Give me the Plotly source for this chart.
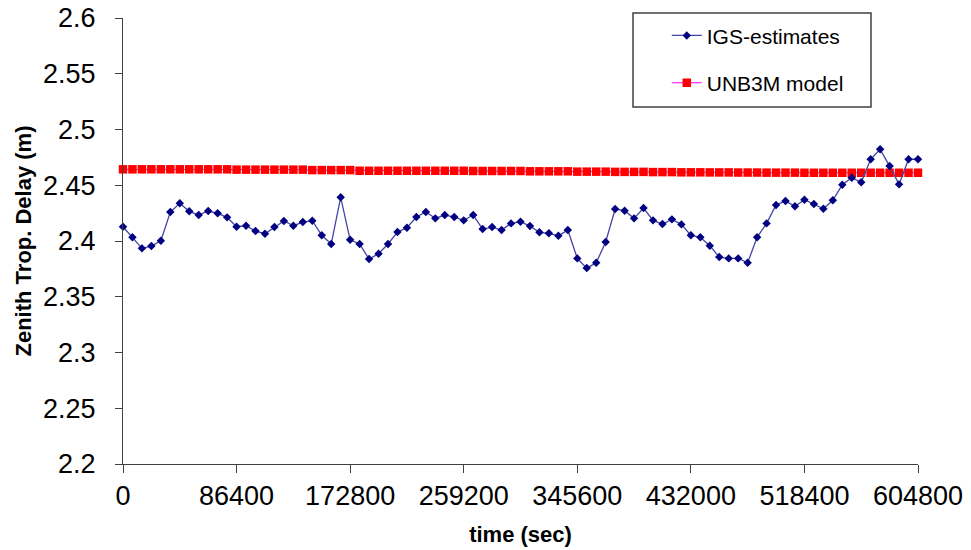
import plotly.graph_objects as go

time_sec = [0, 7200, 14400, 21600, 28800, 36000, 43200, 50400, 57600, 64800,
            72000, 79200, 86400, 93600, 100800, 108000, 115200, 122400, 129600, 136800,
            144000, 151200, 158400, 165600, 172800, 180000, 187200, 194400, 201600, 208800,
            216000, 223200, 230400, 237600, 244800, 252000, 259200, 266400, 273600, 280800,
            288000, 295200, 302400, 309600, 316800, 324000, 331200, 338400, 345600, 352800,
            360000, 367200, 374400, 381600, 388800, 396000, 403200, 410400, 417600, 424800,
            432000, 439200, 446400, 453600, 460800, 468000, 475200, 482400, 489600, 496800,
            504000, 511200, 518400, 525600, 532800, 540000, 547200, 554400, 561600, 568800,
            576000, 583200, 590400, 597600, 604800]

igs_estimates = [2.4128, 2.4033, 2.3934, 2.3955, 2.4002, 2.4260, 2.4338, 2.4266, 2.4233, 2.4269,
                 2.4248, 2.4212, 2.4128, 2.4137, 2.4089, 2.4065, 2.4125, 2.4179, 2.4137, 2.4170,
                 2.4182, 2.4051, 2.3973, 2.4392, 2.4011, 2.3973, 2.3838, 2.3886, 2.3973, 2.4080,
                 2.4119, 2.4215, 2.4260, 2.4203, 2.4233, 2.4215, 2.4185, 2.4233, 2.4107, 2.4125,
                 2.4098, 2.4158, 2.4173, 2.4134, 2.4078, 2.4069, 2.4047, 2.4098, 2.3844, 2.3757,
                 2.3805, 2.3991, 2.4287, 2.4272, 2.4203, 2.4296, 2.4185, 2.4152, 2.4194, 2.4149,
                 2.4051, 2.4033, 2.3958, 2.3856, 2.3844, 2.3844, 2.3805, 2.4033, 2.4158, 2.4323,
                 2.4358, 2.4311, 2.4370, 2.4332, 2.4289, 2.4365, 2.4505, 2.4567, 2.4526, 2.4733,
                 2.4822, 2.4672, 2.4508, 2.4733, 2.4733]

unb3m_model = [2.4643, 2.4643, 2.4643, 2.4643, 2.4643, 2.4643, 2.4643, 2.4643, 2.4643, 2.4643,
               2.4643, 2.4643, 2.4640, 2.4640, 2.4640, 2.4640, 2.4640, 2.4640, 2.4640, 2.4640,
               2.4636, 2.4636, 2.4636, 2.4636, 2.4636, 2.4630, 2.4630, 2.4630, 2.4630, 2.4630,
               2.4630, 2.4630, 2.4630, 2.4630, 2.4630, 2.4630, 2.4630, 2.4628, 2.4628, 2.4628,
               2.4628, 2.4628, 2.4628, 2.4625, 2.4625, 2.4625, 2.4625, 2.4625, 2.4622, 2.4622,
               2.4622, 2.4622, 2.4620, 2.4620, 2.4620, 2.4620, 2.4618, 2.4618, 2.4618, 2.4616,
               2.4616, 2.4616, 2.4615, 2.4615, 2.4615, 2.4614, 2.4614, 2.4614, 2.4613, 2.4613,
               2.4613, 2.4613, 2.4612, 2.4612, 2.4612, 2.4612, 2.4612, 2.4612, 2.4612, 2.4612,
               2.4612, 2.4612, 2.4612, 2.4612, 2.4612]

x_tick_vals = [0, 86400, 172800, 259200, 345600, 432000, 518400, 604800]
x_tick_text = ["0", "86400", "172800", "259200", "345600", "432000", "518400", "604800"]
y_tick_vals = [2.2, 2.25, 2.3, 2.35, 2.4, 2.45, 2.5, 2.55, 2.6]
y_tick_text = ["2.2", "2.25", "2.3", "2.35", "2.4", "2.45", "2.5", "2.55", "2.6"]

FONT = "Liberation Sans, Arial, sans-serif"

fig = go.Figure()
fig.add_trace(go.Scatter(
    x=time_sec, y=unb3m_model, name="UNB3M model", mode="lines+markers",
    line=dict(color="#FF00FF", width=1),
    marker=dict(symbol="square", size=8.5, color="#FF0000"),
    cliponaxis=False, legendrank=2, legendgroup="b",
))
fig.add_trace(go.Scatter(
    x=time_sec, y=igs_estimates, name="IGS-estimates", mode="lines+markers",
    line=dict(color="#4444A4", width=1.3),
    marker=dict(symbol="diamond", size=6.5, color="#000080"),
    cliponaxis=False, legendrank=1, legendgroup="a",
))

fig.update_layout(
    width=971, height=550,
    margin=dict(l=123, r=53, t=18, b=86, autoexpand=False),
    paper_bgcolor="white", plot_bgcolor="white",
    font=dict(family=FONT, color="#000000"),
    showlegend=True,
    legend=dict(
        x=0.684, y=1.006, xanchor="left", yanchor="top",
        bgcolor="rgba(0,0,0,0)", borderwidth=0,
        font=dict(size=21, family=FONT, color="#000000"),
        traceorder="grouped", tracegroupgap=17,
    ),
    shapes=[dict(type="rect", xref="paper", yref="paper",
                 x0=(633 - 123) / 795, x1=(871 - 123) / 795,
                 y0=1 - (107 - 18) / 446, y1=1 + (18 - 13) / 446,
                 line=dict(color="#404040", width=1.5), fillcolor="rgba(0,0,0,0)")],
)

fig.update_xaxes(
    range=[0, 604800], tickmode="array", tickvals=x_tick_vals, ticktext=x_tick_text,
    showgrid=False, zeroline=False, showline=True, linecolor="#404040", linewidth=1,
    ticks="outside", ticklen=8, tickcolor="#404040", tickwidth=1,
    tickfont=dict(size=27, family=FONT, color="#000000"), ticklabelstandoff=0,
    automargin=False,
    title=dict(text="<b>time (sec)</b>", font=dict(size=22, family=FONT, color="#000000"), standoff=16),
)
fig.update_yaxes(
    range=[2.2, 2.6], tickmode="array", tickvals=y_tick_vals, ticktext=y_tick_text,
    showgrid=False, zeroline=False, showline=True, linecolor="#404040", linewidth=1,
    ticks="outside", ticklen=7, tickcolor="#404040", tickwidth=1,
    tickfont=dict(size=27, family=FONT, color="#000000"), ticklabelstandoff=14,
    automargin=False,
    title=dict(text="<b>Zenith Trop. Delay (m)</b>", font=dict(size=22, family=FONT, color="#000000"), standoff=5),
)

fig.write_html("out.html")
